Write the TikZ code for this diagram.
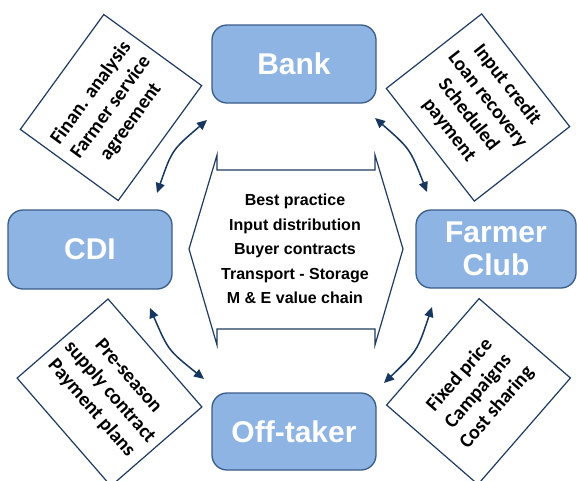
\documentclass[tikz,border=0pt]{standalone}
\usepackage{fontspec}
\setmainfont{Liberation Sans}
\newfontfamily\calib{Carlito}
\usetikzlibrary{arrows.meta}
\definecolor{boxfill}{HTML}{8EB4E3}
\definecolor{boxline}{HTML}{3A5C88}
\definecolor{navy}{HTML}{1F3A60}
\definecolor{arrowc}{HTML}{17375E}
\begin{document}
\begin{tikzpicture}[x=1pt,y=-1pt,
  actor/.style={draw=boxline, line width=1.3pt, fill=boxfill, rounded corners=15pt,
    text=white, font=\fontsize{30}{33}\selectfont\bfseries, align=center, inner sep=0pt},
  note/.style={draw=navy, line width=1.2pt, fill=white,
    font=\calib\fontsize{20}{24.5}\selectfont\bfseries, align=center, inner sep=0pt},
  hexline/.style={draw=navy, line width=1.2pt},
  link/.style={draw=arrowc, line width=1.5pt,
    {Triangle[length=10pt,width=9pt]}-{Triangle[length=10pt,width=9pt]}}]
\useasboundingbox (0,0) rectangle (577,480);

% actors
\node[actor, minimum width=164pt, minimum height=78pt] (bank) at (294,64) {Bank};
\node[actor, minimum width=164pt, minimum height=79pt] (cdi) at (90,249.5) {CDI};
\node[actor, minimum width=160pt, minimum height=78pt] (club) at (496,249) {Farmer\\Club};
\node[actor, minimum width=164pt, minimum height=77pt] (off) at (294,431.5) {Off-taker};

% centre shape
\draw[hexline] (217,155) -- (217,170) -- (375,170) -- (375,155) -- (403,249) -- (375,345)
  -- (375,329) -- (217,329) -- (217,345) -- (189,249) -- cycle;
\node[font=\fontsize{16}{24.5}\selectfont\bfseries, align=center] (mid) at (295,249)
  {Best practice\\Input distribution\\Buyer contracts\\Transport - Storage\\M \& E value chain};

% notes
\node[note, rotate=54, minimum width=142pt, minimum height=121pt] (ntl) at (111,107.5)
  {Finan. analysis\\Farmer service\\agreement};
\node[note, rotate=-52, minimum width=143pt, minimum height=121pt] (ntr) at (478,107.5)
  {Input credit\\Loan recovery\\Scheduled\\payment};
\node[note, rotate=-49, minimum width=143pt, minimum height=120.5pt] (nbl) at (109.5,392.5)
  {Pre-season\\supply contract\\Payment plans};
\node[note, rotate=49, minimum width=141pt, minimum height=121pt] (nbr) at (478.5,391.5)
  {Fixed price\\Campaigns\\Cost sharing};

% arrows
\coordinate (a1) at (157,193); \coordinate (b1) at (207,120);
\coordinate (a2) at (375,118); \coordinate (b2) at (427,192);
\coordinate (a3) at (150,308); \coordinate (b3) at (204,379);
\coordinate (a4) at (432,307); \coordinate (b4) at (384,383);
\draw[link] (a1) .. controls (172,150) .. (b1);
\draw[link] (a2) .. controls (410,148.7) .. (b2);
\draw[link] (a3) .. controls (168.2,350.2) .. (b3);
\draw[link] (a4) .. controls (417.3,350.9) .. (b4);
\end{tikzpicture}
\end{document}
